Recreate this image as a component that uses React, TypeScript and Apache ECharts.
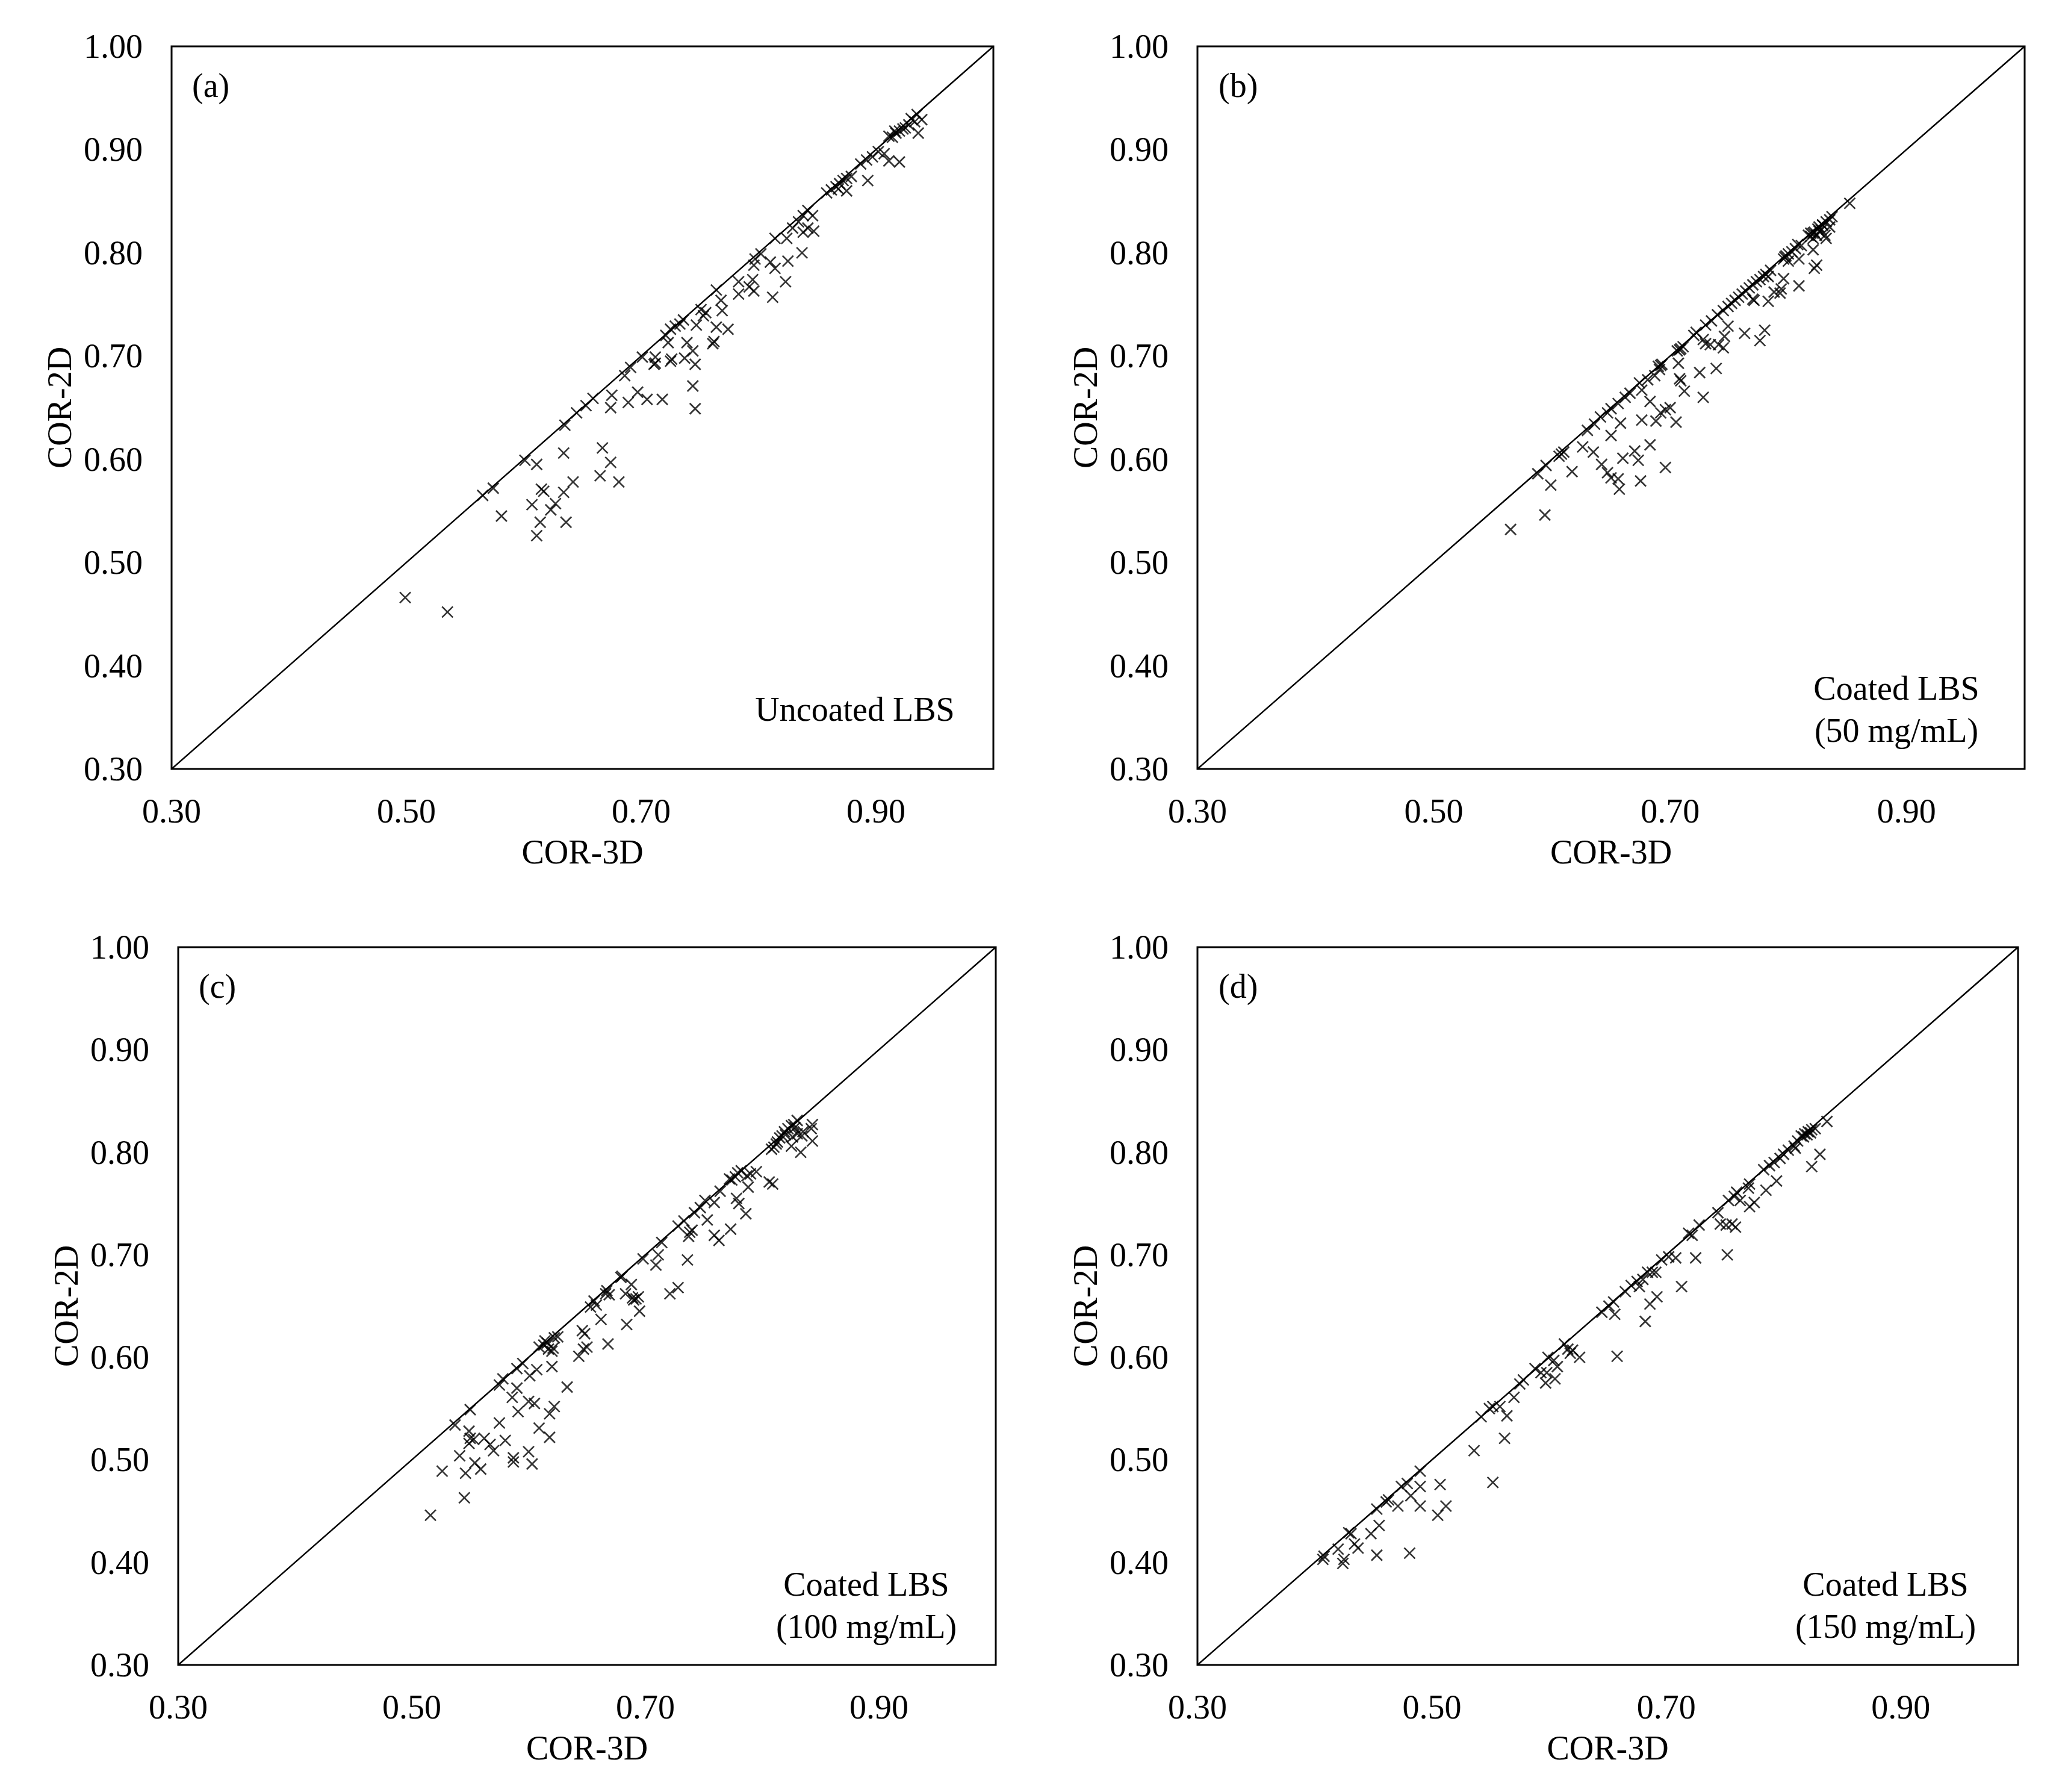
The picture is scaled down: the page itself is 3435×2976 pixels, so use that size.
import React, { useEffect, useRef } from "react";
import * as echarts from "echarts";

const panelLabels = ["(a)", "(b)", "(c)", "(d)"];
const panelNotes = ["Uncoated LBS", "Coated LBS\n(50 mg/mL)", "Coated LBS\n(100 mg/mL)", "Coated LBS\n(150 mg/mL)"];
const xAxisName = "COR-3D";
const yAxisName = "COR-2D";
const axisMin = 0.3;
const axisMax = 1.0;
const refLine = [[0.3, 0.3], [1.0, 1.0]];

const dataA = [
  [0.499,0.466],[0.535,0.452],[0.565,0.565],[0.574,0.572],[0.581,0.545],[0.601,0.599],[0.611,0.595],[0.634,0.606],[0.635,0.633],[0.617,0.569],[0.615,0.571],[0.607,0.556],[0.634,0.568],[0.642,0.578],[0.627,0.557],[0.623,0.551],[0.614,0.539],[0.636,0.539],[0.611,0.526],[0.667,0.611],[0.674,0.597],[0.665,0.584],[0.681,0.578],[0.645,0.645],[0.653,0.652],[0.659,0.659],[0.674,0.650],[0.675,0.662],[0.689,0.655],[0.697,0.665],[0.705,0.658],[0.718,0.658],[0.744,0.671],[0.746,0.649],[0.686,0.681],[0.691,0.689],[0.711,0.692],[0.725,0.695],[0.737,0.698],[0.746,0.692],
  [0.701,0.699],[0.712,0.699],[0.712,0.693],[0.726,0.697],[0.744,0.705],[0.739,0.713],[0.723,0.713],[0.721,0.720],[0.725,0.726],[0.729,0.729],[0.733,0.731],[0.736,0.735],[0.747,0.730],[0.751,0.745],[0.753,0.739],[0.755,0.742],[0.761,0.712],[0.762,0.714],[0.764,0.728],[0.774,0.726],[0.764,0.764],[0.768,0.754],[0.769,0.744],[0.783,0.772],[0.783,0.760],[0.792,0.767],[0.795,0.774],[0.796,0.763],[0.796,0.788],[0.797,0.794],[0.802,0.799],[0.810,0.791],[0.814,0.785],[0.812,0.757],[0.823,0.772],[0.825,0.792],[0.837,0.800],[0.814,0.814],[0.824,0.814],[0.829,0.824],[0.834,0.830],[0.838,0.820],[0.842,0.824],[0.847,0.821],[0.846,0.836],[0.842,0.841],[0.838,0.836],
  [0.858,0.858],[0.862,0.861],[0.866,0.864],[0.869,0.867],[0.872,0.870],[0.875,0.872],[0.879,0.874],[0.875,0.860],[0.868,0.862],
  [0.887,0.886],[0.893,0.870],[0.897,0.893],[0.907,0.896],[0.911,0.889],[0.920,0.888],[0.892,0.890],[0.902,0.898],
  [0.911,0.913],[0.914,0.912],[0.917,0.916],[0.920,0.918],[0.923,0.920],[0.925,0.921],[0.928,0.924],[0.916,0.918],
  [0.930,0.930],[0.935,0.934],[0.939,0.929],[0.936,0.916],[0.933,0.927]
];

const dataB = [
  [0.565,0.532],[0.594,0.546],[0.588,0.586],[0.595,0.594],[0.599,0.575],[0.617,0.588],[0.608,0.605],[0.610,0.607],[0.606,0.603],[0.626,0.612],[0.635,0.607],[0.642,0.595],[0.647,0.587],[0.650,0.582],[0.656,0.581],[0.657,0.571],[0.660,0.601],[0.670,0.608],[0.673,0.599],[0.675,0.579],[0.683,0.614],[0.696,0.592],[0.650,0.623],[0.658,0.635],[0.676,0.638],[0.688,0.637],[0.705,0.636],[0.683,0.656],[0.692,0.645],[0.700,0.650],[0.696,0.648],[0.630,0.628],[0.636,0.634],[0.641,0.641],[0.647,0.645],[0.650,0.649],[0.656,0.654],[0.662,0.660],[0.666,0.664],[0.674,0.674],[0.681,0.677],[0.687,0.681],[0.691,0.687],[0.692,0.691],[0.707,0.693],[0.708,0.678],[0.709,0.676],[0.712,0.666],[0.728,0.660],[0.725,0.684],[0.739,0.688],[0.690,0.690],[0.693,0.692],[0.676,0.667],
  [0.852,0.848],[0.837,0.835],[0.835,0.832],[0.832,0.830],[0.829,0.827],[0.826,0.825],
  [0.817,0.817],[0.819,0.819],[0.821,0.819],[0.824,0.817],[0.826,0.821],[0.828,0.822],[0.831,0.817],[0.832,0.814],[0.821,0.814],[0.819,0.816],[0.835,0.825],[0.829,0.827],[0.822,0.820],[0.825,0.823],
  [0.821,0.803],[0.822,0.785],[0.824,0.788],[0.809,0.794],[0.811,0.807],[0.808,0.808],
  [0.796,0.794],[0.798,0.797],[0.800,0.799],[0.803,0.801],[0.806,0.804],[0.800,0.792],[0.797,0.796],
  [0.796,0.775],[0.809,0.768],[0.783,0.777],
  [0.740,0.740],[0.745,0.744],[0.749,0.748],[0.752,0.751],[0.755,0.754],[0.758,0.757],[0.761,0.760],[0.764,0.763],[0.767,0.766],[0.770,0.769],[0.773,0.772],[0.776,0.774],[0.779,0.777],[0.781,0.779],[0.785,0.783],
  [0.788,0.762],[0.793,0.761],[0.794,0.765],[0.783,0.753],[0.770,0.755],[0.771,0.754],
  [0.749,0.729],[0.763,0.722],[0.780,0.725],[0.776,0.715],[0.746,0.719],[0.745,0.708],[0.741,0.711],[0.730,0.712],[0.734,0.711],[0.728,0.716],
  [0.735,0.734],[0.730,0.730],[0.722,0.723],[0.720,0.720],[0.709,0.707],[0.708,0.706],[0.706,0.705],[0.711,0.709]
];

const dataC = [
  [0.516,0.446],[0.545,0.463],[0.526,0.489],[0.546,0.487],[0.559,0.491],[0.554,0.497],[0.541,0.504],[0.587,0.502],[0.587,0.498],[0.603,0.496],[0.600,0.508],[0.570,0.509],[0.567,0.515],[0.549,0.516],[0.550,0.521],[0.553,0.520],[0.562,0.521],[0.580,0.519],[0.549,0.528],[0.537,0.534],[0.575,0.536],[0.609,0.531],[0.618,0.522],[0.550,0.549],[0.591,0.547],[0.600,0.557],[0.605,0.555],[0.618,0.545],[0.622,0.552],[0.586,0.561],[0.590,0.570],[0.575,0.573],[0.578,0.579],[0.633,0.571],[0.601,0.582],[0.607,0.588],[0.590,0.589],[0.595,0.594],[0.620,0.591],[0.609,0.610],[0.613,0.612],[0.616,0.614],[0.617,0.608],[0.621,0.609],[0.622,0.619],[0.620,0.606],[0.614,0.616],[0.625,0.620],
  [0.809,0.769],[0.806,0.771],[0.795,0.781],[0.788,0.766],[0.787,0.777],[0.790,0.779],[0.782,0.782],[0.779,0.780],[0.777,0.776],[0.774,0.773],[0.772,0.774],[0.778,0.755],[0.780,0.750],[0.786,0.740],[0.764,0.762],[0.759,0.751],[0.751,0.753],[0.753,0.734],[0.747,0.746],[0.742,0.741],[0.773,0.725],[0.759,0.719],[0.763,0.714],[0.738,0.722],[0.737,0.718],[0.740,0.724],[0.733,0.733],[0.728,0.728],[0.714,0.712],[0.736,0.695],[0.698,0.696],[0.711,0.700],[0.709,0.690],[0.679,0.678],[0.680,0.679],[0.688,0.671],[0.683,0.662],[0.689,0.658],[0.692,0.657],[0.690,0.656],[0.694,0.659],[0.667,0.665],[0.669,0.661],[0.666,0.662],[0.656,0.655],[0.653,0.649],[0.658,0.651],[0.695,0.645],[0.721,0.662],[0.728,0.668],[0.662,0.637],[0.684,0.632],[0.646,0.626],[0.648,0.623],[0.668,0.613],[0.650,0.610],[0.647,0.608],[0.643,0.601],
  [0.830,0.831],[0.827,0.827],[0.825,0.826],[0.828,0.824],[0.822,0.823],[0.819,0.820],[0.820,0.817],[0.817,0.816],[0.815,0.814],[0.813,0.810],[0.812,0.808],[0.810,0.805],[0.808,0.803],[0.843,0.827],[0.842,0.823],[0.835,0.820],[0.834,0.816],[0.843,0.811],[0.825,0.806],[0.833,0.800],[0.830,0.818],[0.826,0.815]
];

const dataD = [
  [0.408,0.406],[0.407,0.403],[0.420,0.413],[0.425,0.403],[0.424,0.399],[0.437,0.414],[0.434,0.418],[0.431,0.428],[0.429,0.429],[0.453,0.407],[0.481,0.409],[0.448,0.428],[0.455,0.436],[0.453,0.452],[0.461,0.459],[0.463,0.461],[0.471,0.455],[0.474,0.474],[0.479,0.477],[0.482,0.465],[0.490,0.474],[0.490,0.455],[0.490,0.489],[0.507,0.476],[0.505,0.446],[0.512,0.455],[0.536,0.509],[0.552,0.478],[0.542,0.542],[0.549,0.550],[0.552,0.552],[0.558,0.552],[0.564,0.543],[0.562,0.521],[0.570,0.561],
  [0.578,0.578],[0.575,0.574],[0.588,0.589],[0.593,0.585],[0.598,0.585],[0.597,0.575],[0.604,0.597],[0.607,0.591],[0.605,0.579],[0.599,0.600],[0.613,0.613],[0.616,0.608],[0.620,0.607],[0.618,0.604],[0.626,0.600],[0.658,0.601],[0.645,0.644],[0.651,0.650],[0.655,0.654],[0.656,0.642],[0.682,0.635],[0.686,0.652],[0.692,0.659],[0.665,0.664],[0.670,0.670],[0.675,0.674],[0.677,0.669],[0.680,0.676],[0.684,0.683],[0.688,0.683],[0.691,0.683],[0.713,0.669],[0.696,0.695],[0.708,0.697],[0.702,0.698],[0.725,0.697],[0.752,0.700],[0.719,0.721],[0.722,0.719],[0.728,0.729],[0.744,0.741],[0.746,0.730],[0.751,0.729],[0.759,0.727],[0.756,0.730],[0.753,0.753],[0.758,0.757],[0.760,0.761],[0.771,0.769],[0.770,0.765],[0.771,0.747],[0.775,0.751],[0.763,0.753],[0.785,0.763],[0.794,0.772],[0.783,0.783],[0.788,0.787],[0.792,0.790],[0.797,0.794],[0.800,0.798],[0.804,0.802],[0.809,0.806],[0.812,0.811],[0.817,0.815],[0.810,0.804],
  [0.837,0.830],[0.831,0.798],[0.824,0.786],[0.815,0.816],[0.818,0.818],[0.821,0.820],[0.824,0.822],[0.827,0.823],[0.820,0.817],[0.823,0.819]
];

const panelData = [dataA, dataB, dataC, dataD];

const FONT = '"Liberation Serif", "Times New Roman", serif';
const FS = 56;

const grids = [
  { left: 285, top: 77, width: 1365, height: 1200 },
  { left: 1989, top: 77, width: 1374, height: 1200 },
  { left: 296, top: 1573, width: 1358, height: 1192 },
  { left: 1989, top: 1573, width: 1363, height: 1192 },
];

const labelPos = [
  { x: 319, y: 142 },
  { x: 2024, y: 142 },
  { x: 330, y: 1638 },
  { x: 2024, y: 1638 },
];

const notePos = [
  { x: 1420, y: 1178 },
  { x: 3150, y: 1178 },
  { x: 1439, y: 2666 },
  { x: 3132, y: 2666 },
];

const CROSS = "path://M0,0L10,10M10,0L0,10";

export default function App() {
  const ref = useRef<HTMLDivElement>(null);
  useEffect(() => {
    if (!ref.current) return;
    const chart = echarts.init(ref.current, null, { renderer: "svg" });
    const option: any = {
      animation: false,
      backgroundColor: "#ffffff",
      grid: grids.map((g) => ({
        ...g,
        show: true,
        borderColor: "#000",
        borderWidth: 3,
        backgroundColor: "transparent",
        containLabel: false,
      })),
      xAxis: grids.map((_, i) => ({
        gridIndex: i,
        type: "value",
        min: axisMin,
        max: axisMax,
        interval: 0.1,
        name: xAxisName,
        nameLocation: "middle",
        nameGap: 110,
        nameTextStyle: { fontFamily: FONT, fontSize: FS, color: "#000" },
        axisLine: { show: false },
        axisTick: { show: false },
        splitLine: { show: false },
        axisLabel: {
          fontFamily: FONT,
          fontSize: FS,
          color: "#000",
          margin: 42,
          formatter: (v: number) => {
            const k = Math.round(v * 10);
            return k % 2 === 1 ? v.toFixed(2) : "";
          },
        },
      })),
      yAxis: grids.map((_, i) => ({
        gridIndex: i,
        type: "value",
        min: axisMin,
        max: axisMax,
        interval: 0.1,
        name: yAxisName,
        nameLocation: "middle",
        nameGap: 158,
        nameRotate: 90,
        nameTextStyle: { fontFamily: FONT, fontSize: FS, color: "#000" },
        axisLine: { show: false },
        axisTick: { show: false },
        splitLine: { show: false },
        axisLabel: {
          fontFamily: FONT,
          fontSize: FS,
          color: "#000",
          margin: 48,
          formatter: (v: number) => v.toFixed(2),
        },
      })),
      series: [
        ...panelData.map((d, i) => ({
          type: "line",
          xAxisIndex: i,
          yAxisIndex: i,
          data: refLine,
          symbol: "none",
          lineStyle: { color: "#000", width: 2.5 },
          silent: true,
          z: 2,
        })),
        ...panelData.map((d, i) => ({
          type: "scatter",
          xAxisIndex: i,
          yAxisIndex: i,
          data: d,
          symbol: CROSS,
          symbolSize: 18,
          itemStyle: { color: "rgba(0,0,0,0)", borderColor: "#000", borderWidth: 2.6 },
          z: 3,
        })),
      ],
      graphic: [
        ...panelLabels.map((t, i) => ({
          type: "text",
          x: labelPos[i].x,
          y: labelPos[i].y,
          style: { text: t, fill: "#000", font: `${FS}px ${FONT}`, align: "left", verticalAlign: "middle" },
        })),
        ...panelNotes.map((t, i) => ({
          type: "text",
          x: notePos[i].x,
          y: notePos[i].y,
          style: { text: t, fill: "#000", font: `${FS}px ${FONT}`, align: "center", verticalAlign: "middle", lineHeight: 70 },
        })),
      ],
    };
    chart.setOption(option);
    return () => chart.dispose();
  }, []);
  return (
    <div
      ref={ref}
      style={{ position: "absolute", left: 0, top: 0, width: 3435, height: 2976, background: "#fff" }}
    />
  );
}
